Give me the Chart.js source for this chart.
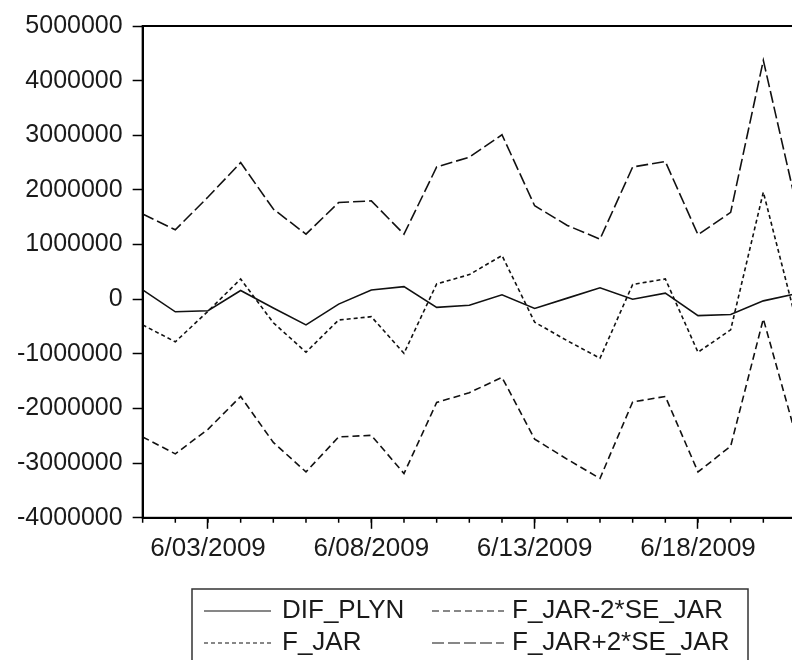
<!DOCTYPE html>
<html>
<head>
<meta charset="utf-8">
<title>DIF_PLYN forecast</title>
<script src="https://cdn.jsdelivr.net/npm/chart.js@4.4.0/dist/chart.umd.min.js"></script>
<style>
  html, body { margin: 0; padding: 0; background: #fff; overflow: hidden; }
  canvas { display: block; }
</style>
</head>
<body>
<canvas id="forecastChart" width="800" height="660"></canvas>
<script>
// Daily observations, June 2009
const dates = ['6/01/2009', '6/02/2009', '6/03/2009', '6/04/2009', '6/05/2009', '6/06/2009', '6/07/2009',
               '6/08/2009', '6/09/2009', '6/10/2009', '6/11/2009', '6/12/2009', '6/13/2009', '6/14/2009',
               '6/15/2009', '6/16/2009', '6/17/2009', '6/18/2009', '6/19/2009', '6/20/2009', '6/21/2009'];
const tickDates = ['6/03/2009', '6/08/2009', '6/13/2009', '6/18/2009'];

const difPlyn = [170000, -230000, -210000, 160000, -160000, -470000, -90000, 170000, 230000, -150000, -110000,
                 80000, -170000, 20000, 210000, 0, 110000, -300000, -280000, -30000, 100000];
const fJar = [-470000, -780000, -220000, 370000, -430000, -970000, -380000, -320000, -990000, 280000, 450000,
              800000, -420000, -760000, -1080000, 270000, 370000, -970000, -560000, 1960000, -380000];
const fJarLower = [-2520000, -2830000, -2380000, -1780000, -2620000, -3160000, -2520000, -2490000, -3190000, -1890000, -1710000,
                   -1430000, -2560000, -2930000, -3280000, -1880000, -1780000, -3160000, -2690000, -360000, -2500000];
const fJarUpper = [1560000, 1270000, 1870000, 2500000, 1650000, 1190000, 1770000, 1800000, 1190000, 2420000, 2600000,
                   3010000, 1710000, 1350000, 1100000, 2420000, 2520000, 1180000, 1590000, 4370000, 1750000];

const ink = '#111';
const fontFamily = '"Liberation Sans", Arial, sans-serif';

// Box frame, short day ticks and the two-column legend
const frameAndLegend = {
    id: 'frameAndLegend',
    afterDraw(chart) {
        const { ctx, chartArea: a, scales: { x } } = chart;
        ctx.save();
        ctx.strokeStyle = '#000';
        ctx.lineWidth = 2;
        ctx.strokeRect(a.left, a.top, a.right - a.left, a.bottom - a.top);

        ctx.lineWidth = 1.5;
        ctx.beginPath();
        x.ticks.forEach((t, i) => {
            const px = x.getPixelForTick(i);
            ctx.moveTo(px, a.bottom);
            ctx.lineTo(px, a.bottom + 5);
        });
        ctx.stroke();

        // legend box
        ctx.strokeStyle = '#333';
        ctx.lineWidth = 1.5;
        ctx.strokeRect(192, 589, 556, 120);

        const cols = [{ line: 204, lineEnd: 271, text: 282 }, { line: 432, lineEnd: 504, text: 512 }];
        const rows = [611, 643];
        ctx.font = '26px ' + fontFamily;
        ctx.textBaseline = 'middle';
        ctx.fillStyle = '#1a1a1a';
        chart.data.datasets.forEach((ds, i) => {
            const c = cols[Math.floor(i / 2)];
            const y = rows[i % 2];
            ctx.strokeStyle = ink;
            ctx.lineWidth = 1.2;
            ctx.setLineDash(ds.borderDash || []);
            ctx.beginPath();
            ctx.moveTo(c.line, y);
            ctx.lineTo(c.lineEnd, y);
            ctx.stroke();
            ctx.setLineDash([]);
            ctx.fillText(ds.label, c.text, y);
        });
        ctx.restore();
    }
};

const line = (label, data, dash) => ({
    label: label,
    data: data,
    borderColor: ink,
    borderWidth: 1.6,
    borderDash: dash,
    pointRadius: 0,
    tension: 0,
    fill: false
});

const forecastChart = new Chart(document.getElementById('forecastChart'), {
    type: 'line',
    data: {
        labels: dates,
        datasets: [
            line('DIF_PLYN', difPlyn, []),
            line('F_JAR', fJar, [4, 3]),
            line('F_JAR-2*SE_JAR', fJarLower, [7, 4]),
            line('F_JAR+2*SE_JAR', fJarUpper, [12, 4])
        ]
    },
    options: {
        responsive: false,
        animation: false,
        layout: { padding: { top: 26, left: 7, right: 4, bottom: 92 } },
        plugins: {
            legend: { display: false },
            tooltip: { enabled: false }
        },
        scales: {
            x: {
                offset: false,
                border: { display: true, color: '#000', width: 2 },
                grid: {
                    drawOnChartArea: false,
                    tickLength: 11,
                    tickWidth: 1.5,
                    tickColor: (c) => tickDates.includes(dates[c.index]) ? '#000' : 'rgba(0,0,0,0)'
                },
                ticks: {
                    autoSkip: false,
                    maxRotation: 0,
                    padding: 4,
                    color: '#1a1a1a',
                    font: { family: fontFamily, size: 26 },
                    callback: (v, i) => tickDates.includes(dates[i]) ? dates[i] : ''
                }
            },
            y: {
                min: -4000000,
                max: 5000000,
                border: { display: true, color: '#000', width: 2 },
                grid: { drawOnChartArea: false, tickLength: 10, tickWidth: 1.5, tickColor: '#000' },
                ticks: {
                    stepSize: 1000000,
                    padding: 10,
                    color: '#1a1a1a',
                    font: { family: fontFamily, size: 25 },
                    callback: (v) => String(v)
                }
            }
        }
    },
    plugins: [frameAndLegend]
});
</script>
</body>
</html>
